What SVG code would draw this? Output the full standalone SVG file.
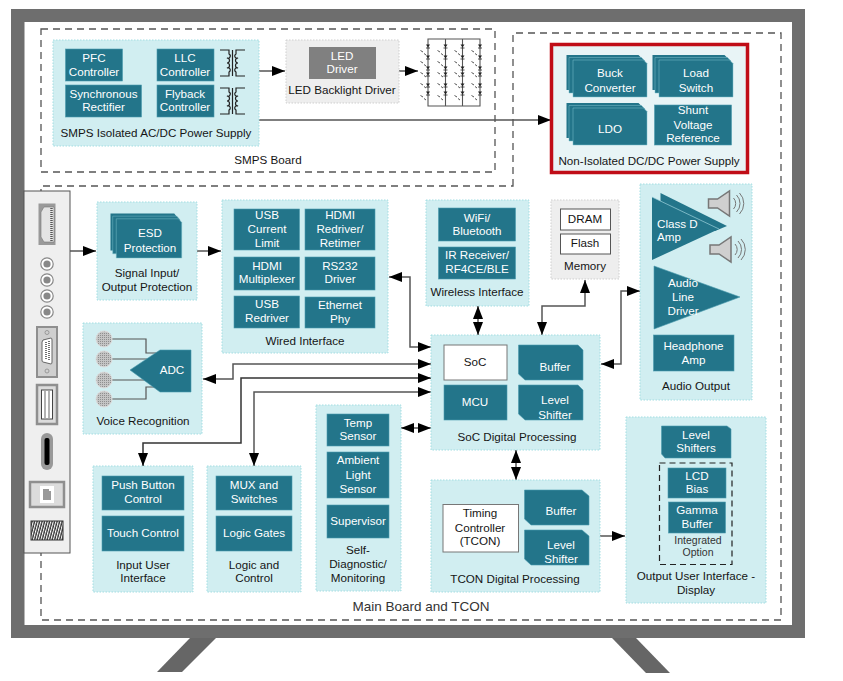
<svg xmlns="http://www.w3.org/2000/svg" width="843" height="681" viewBox="0 0 843 681">
<style>
text{font-family:"Liberation Sans",Arial,sans-serif;font-size:11.650px;text-anchor:middle;fill:#151515}
.w{fill:#fff}
.s{text-anchor:start}
.p{fill:#d1eef1;stroke:#a3dde2;stroke-width:1;stroke-dasharray:1.5 1.5}
.g{fill:#eeeeee;stroke:#cfcfcf;stroke-width:1;stroke-dasharray:1.5 1.5}
.t{fill:#23758a;stroke:#4c9cae;stroke-width:.6}
.n{fill:#fff;stroke:#777;stroke-width:1}
.d{fill:none;stroke:#555;stroke-width:1.3;stroke-dasharray:7 5}
.c{fill:none;stroke:#555;stroke-width:1.5}
.a{marker-end:url(#ah)}
.b{marker-start:url(#ah);marker-end:url(#ah)}
.m{fill:none;stroke:#555;stroke-width:1.2}
.pt{fill:#dcdcdc;stroke:#8f8f8f;stroke-width:2.5}
</style>
<defs>
<marker id="ah" viewBox="0 0 13 10" refX="13" refY="5" markerUnits="userSpaceOnUse" markerWidth="13" markerHeight="10" orient="auto-start-reverse"><path d="M0 0L13 5L0 10Z" fill="#000"/></marker>
<g id="stack">
<path d="M0 0H72L75 3V35H0Z" fill="#23758a"/>
<path d="M2.5 2.5H75L78 5.5V38H2.5Z" fill="#23758a" stroke="#7fc0cc" stroke-width=".5"/>
<path d="M6.5 5H77L80.500 8.500V42H6.500Z" fill="#23758a" stroke="#7fc0cc" stroke-width=".5"/>
</g>
<g id="xf" fill="none" stroke="#222" stroke-width="1.200">
<path d="M0 0H9V4a2 2 0 0 1-2 4a2 2 0 0 1 0 5a2 2 0 0 1 0 5a2 2 0 0 1 2 4V26H0"/>
<path d="M25 0H16V4a2 2 0 0 0 2 4a2 2 0 0 0 0 5a2 2 0 0 0 0 5a2 2 0 0 0-2 4V26H25"/>
<path d="M12.500 0V26"/>
</g>
<g id="dio"><path d="M-2 -1.500H2L0 1.500Z" fill="#222"/><path d="M-2 2H2" stroke="#222" stroke-width=".8"/></g>
<g id="ledm" stroke="#555" stroke-width="1" fill="none"><path d="M-2.500 -1.500L0 0M1 1.500L3 3"/></g>
<g id="spk"><path d="M0 8H9L21 0V25L9 17H0Z" fill="#cfcfcf" stroke="#777" stroke-width="1.500"/><path d="M25 7a8 8 0 0 1 0 11M28 4a12 12 0 0 1 0 17M31 2a15 15 0 0 1 0 21" fill="none" stroke="#777" stroke-width="1"/></g>
<g id="rca"><circle r="6.200" fill="#fff" stroke="#888" stroke-width="1.200"/><circle r="3.600" fill="#888"/></g>
<pattern id="spec" width="2" height="2" patternUnits="userSpaceOnUse"><rect width="2" height="2" fill="#c4c4c4"/><rect width="1" height="1" fill="#8f8f8f"/></pattern>
<pattern id="coil" width="2.500" height="19" patternUnits="userSpaceOnUse" patternTransform="skewX(-15)"><rect width="2.500" height="19" fill="#333"/><rect width="1.100" height="19" fill="#fff"/></pattern>
<circle id="mic" r="8" fill="url(#spec)" stroke="#dcdcdc" stroke-width="1"/>
</defs>

<g id="tv">
<path d="M190 638H216L182 672H157Z" fill="#666"/>
<path d="M612 638H636L670 673H646Z" fill="#666"/>
<path fill-rule="evenodd" d="M11 9H805V638H11ZM24.500 22V625H792V22Z" fill="#6e6e6e"/>
</g>

<g id="smps-board"><rect class="d" x="41" y="29" width="454" height="143"/><text x="268" y="164">SMPS Board</text></g>
<g id="main-board"><path class="d" d="M513 186V33H781V620H41V186Z"/><text x="421" y="611" style="font-size:13.500px;fill:#333">Main Board and TCON</text></g>

<g id="connectors">
<path class="c" d="M122 65H157M148 65V101H157"/>
<path class="c a" d="M259 71H285"/>
<path class="c a" d="M399 71H418"/>
<path class="c a" d="M259 120H551"/>
<path class="c a" d="M70 251H96"/>
<path class="c a" d="M197 251H221"/>
<path class="c b" d="M389 277H410V347H431"/>
<path class="c b" d="M203 379H233V364H431"/>
<path class="c b" style="stroke:#333" d="M143 466V443H241V378H431"/>
<path class="c b" d="M254 466V392H431"/>
<path class="c b" d="M478 306V335"/>
<path class="c b" d="M585 280V306H542V335"/>
<path class="c b" d="M401 428H431"/>
<path class="c b" d="M516 450V480"/>
<path class="c a" d="M600 536H625"/>
<path class="c b" d="M601 364H621V291H640"/>
</g>

<g id="smps-supply">
<rect class="p" x="53" y="40" width="206" height="106"/>
<rect class="t" x="65.500" y="49" width="57" height="32"/><text class="w" x="94" y="62">PFC</text><text class="w" x="94" y="75.500">Controller</text>
<rect class="t" x="157" y="49" width="57" height="32"/><text class="w" x="185" y="62">LLC</text><text class="w" x="185" y="75.500">Controller</text>
<rect class="t" x="65.500" y="85" width="76" height="32"/><text class="w" x="103.500" y="98">Synchronous</text><text class="w" x="103.500" y="111">Rectifier</text>
<rect class="t" x="157" y="85" width="57" height="32"/><text class="w" x="185" y="98">Flyback</text><text class="w" x="185" y="111">Controller</text>
<use href="#xf" x="220" y="50"/><use href="#xf" x="220" y="88"/>
<text x="156" y="137">SMPS Isolated AC/DC Power Supply</text>
</g>
<g id="led-driver">
<rect class="g" x="286" y="40" width="113" height="63"/>
<rect x="309" y="47" width="67" height="32" fill="#808080"/><text class="w" x="342" y="60">LED</text><text class="w" x="342" y="73">Driver</text>
<text x="342" y="94">LED Backlight Driver</text>
</g>
<g id="led-array">
<path d="M428 39H480V106H428ZM445.500 39V106M462.500 39V106" fill="none" stroke="#555" stroke-width="1.100"/>
<use href="#dio" x="428" y="46"/><use href="#dio" x="428" y="57"/><use href="#dio" x="428" y="68"/><use href="#dio" x="428" y="74"/><use href="#dio" x="428" y="85"/><use href="#dio" x="428" y="93"/>
<use href="#dio" x="445.500" y="46"/><use href="#dio" x="445.500" y="57"/><use href="#dio" x="445.500" y="68"/><use href="#dio" x="445.500" y="74"/><use href="#dio" x="445.500" y="85"/><use href="#dio" x="445.500" y="93"/>
<use href="#dio" x="462.500" y="46"/><use href="#dio" x="462.500" y="57"/><use href="#dio" x="462.500" y="68"/><use href="#dio" x="462.500" y="74"/><use href="#dio" x="462.500" y="85"/><use href="#dio" x="462.500" y="93"/>
<use href="#dio" x="480" y="46"/><use href="#dio" x="480" y="57"/><use href="#dio" x="480" y="68"/><use href="#dio" x="480" y="74"/><use href="#dio" x="480" y="85"/><use href="#dio" x="480" y="93"/>
<use href="#ledm" x="423" y="52"/><use href="#ledm" x="423" y="63"/><use href="#ledm" x="423" y="74"/><use href="#ledm" x="423" y="85"/><use href="#ledm" x="423" y="97"/>
<use href="#ledm" x="440" y="52"/><use href="#ledm" x="440" y="63"/><use href="#ledm" x="440" y="74"/><use href="#ledm" x="440" y="85"/><use href="#ledm" x="440" y="97"/>
<use href="#ledm" x="457" y="52"/><use href="#ledm" x="457" y="63"/><use href="#ledm" x="457" y="74"/><use href="#ledm" x="457" y="85"/><use href="#ledm" x="457" y="97"/>
<use href="#ledm" x="474" y="52"/><use href="#ledm" x="474" y="63"/><use href="#ledm" x="474" y="74"/><use href="#ledm" x="474" y="85"/><use href="#ledm" x="474" y="97"/>
</g>
<g id="dcdc">
<rect x="551.500" y="44.500" width="196" height="128" fill="#e8f4f6" stroke="#c00d17" stroke-width="3.500"/>
<use href="#stack" x="566.500" y="55"/><text class="w" x="610" y="77">Buck</text><text class="w" x="610" y="92">Converter</text>
<use href="#stack" x="652.500" y="55"/><text class="w" x="696" y="77">Load</text><text class="w" x="696" y="92">Switch</text>
<use href="#stack" x="566.500" y="103"/><text class="w" x="610" y="133">LDO</text>
<rect class="t" x="654.500" y="105" width="77" height="40"/><text class="w" x="693" y="114">Shunt</text><text class="w" x="693" y="129">Voltage</text><text class="w" x="693" y="142">Reference</text>
<text x="649" y="165">Non-Isolated DC/DC Power Supply</text>
</g>

<g id="ports">
<rect x="24" y="191" width="46" height="362" fill="#efefef" stroke="#555" stroke-width="1"/>
<rect x="38.500" y="203.500" width="17" height="41.500" fill="#9a9a9a"/>
<path d="M44 207H54V242H44L41 237V212Z" fill="#e4e4e4" stroke="#777" stroke-width=".6"/>
<path d="M51.500 208V241" stroke="#555" stroke-width="2.500" stroke-dasharray="1 1"/>
<use href="#rca" x="47" y="264"/><use href="#rca" x="47" y="280"/><use href="#rca" x="47" y="296"/><use href="#rca" x="47" y="312"/>
<rect x="37" y="327" width="20" height="50" fill="#cfcfcf" stroke="#8f8f8f" stroke-width="2"/>
<circle cx="47" cy="332.500" r="2" fill="none" stroke="#999"/><circle cx="47" cy="371" r="2" fill="none" stroke="#999"/>
<path d="M43 340L51 338Q52 338 52 340V362Q52 364 51 364L43 362Q42 362 42 360V342Z" fill="#fff" stroke="#666"/>
<path d="M46 342V360M49 341V361" stroke="#444" stroke-width="1.500" stroke-dasharray="1 1"/>
<rect x="37" y="385" width="20" height="39" class="pt"/>
<rect x="41.500" y="390" width="11" height="29" fill="#fff" stroke="#444"/>
<path d="M45 391V418M49 391V418" stroke="#999" stroke-width="1.500"/>
<rect x="41" y="433" width="12" height="37" rx="6" fill="#999"/>
<rect x="44.500" y="438" width="5" height="27" rx="2" fill="#000"/>
<rect x="30" y="482" width="34" height="25" class="pt"/>
<rect x="40" y="486" width="14" height="17" fill="#fff"/>
<path d="M43 489H49V491H51V500H43Z" fill="#999"/>
<rect x="31" y="521" width="32" height="19" fill="url(#coil)" stroke="#333" stroke-width="1"/>
</g>

<g id="signal-protection">
<rect class="p" x="97" y="202" width="100" height="98"/>
<use href="#stack" transform="translate(110.500 213.500) scale(.885 1.060)"/>
<text class="w" x="150" y="237">ESD</text><text class="w" x="150" y="252">Protection</text>
<text x="147" y="277">Signal Input/</text><text x="147" y="291">Output Protection</text>
</g>
<g id="voice">
<rect class="p" x="83" y="323" width="119" height="111"/>
<path class="m" d="M112 339H146V353H162M112 359H160M112 380H160M112 399H146V387H162"/>
<use href="#mic" x="104" y="339"/><use href="#mic" x="104" y="359"/><use href="#mic" x="104" y="380"/><use href="#mic" x="104" y="399"/>
<path class="t" d="M130 370L160 350H191V392H160Z"/><text class="w" x="172" y="374">ADC</text>
<text x="143" y="425">Voice Recognition</text>
</g>
<g id="wired">
<rect class="p" x="222" y="200" width="166" height="153"/>
<rect class="t" x="234" y="209" width="65.500" height="41"/><text class="w" x="267" y="219">USB</text><text class="w" x="267" y="233">Current</text><text class="w" x="267" y="247">Limit</text>
<rect class="t" x="305" y="209" width="70" height="41"/><text class="w" x="340" y="219">HDMI</text><text class="w" x="340" y="233">Redriver/</text><text class="w" x="340" y="247">Retimer</text>
<rect class="t" x="234" y="257" width="65.500" height="33"/><text class="w" x="267" y="270">HDMI</text><text class="w" x="267" y="283">Multiplexer</text>
<rect class="t" x="305" y="257" width="70" height="33"/><text class="w" x="340" y="270">RS232</text><text class="w" x="340" y="283">Driver</text>
<rect class="t" x="234" y="296" width="65.500" height="32"/><text class="w" x="267" y="308">USB</text><text class="w" x="267" y="322">Redriver</text>
<rect class="t" x="305" y="297" width="70" height="31"/><text class="w" x="340" y="309">Ethernet</text><text class="w" x="340" y="323">Phy</text>
<text x="305" y="345">Wired Interface</text>
</g>
<g id="wireless">
<rect class="p" x="426" y="200" width="103" height="106"/>
<rect class="t" x="438.500" y="208" width="77" height="33"/><text class="w" x="477" y="222">WiFi/</text><text class="w" x="477" y="235">Bluetooth</text>
<rect class="t" x="438.500" y="247" width="77" height="32"/><text class="w" x="477" y="259">IR Receiver/</text><text class="w" x="477" y="273">RF4CE/BLE</text>
<text x="477" y="296">Wireless Interface</text>
</g>
<g id="memory">
<rect class="g" x="551" y="200" width="68" height="79"/>
<rect class="n" x="560.500" y="209" width="50" height="21" style="stroke:#555"/><text x="585" y="223">DRAM</text>
<rect class="n" x="560.500" y="234" width="50" height="20" style="stroke:#555"/><text x="585" y="247">Flash</text>
<text x="585" y="270">Memory</text>
</g>
<g id="soc">
<rect class="p" x="431" y="335" width="169" height="115"/>
<rect class="n" x="444" y="345" width="63" height="35"/><text x="475" y="366">SoC</text>
<rect class="t" x="444" y="385" width="63" height="35"/><text class="w" x="475" y="406">MCU</text>
<path class="t" d="M518.500 345H578L583 350V380H525L518.500 374Z"/><text class="w" x="555" y="371">Buffer</text>
<path class="t" d="M518.500 385H578L583 390V420H525L518.500 414Z"/><text class="w" x="555" y="404">Level</text><text class="w" x="555" y="419">Shifter</text>
<text x="517" y="441">SoC Digital Processing</text>
</g>
<g id="input-ui">
<rect class="p" x="93" y="466" width="100" height="126"/>
<rect class="t" x="102" y="476" width="82" height="34"/><text class="w" x="143" y="489">Push Button</text><text class="w" x="143" y="503">Control</text>
<rect class="t" x="102" y="516" width="82" height="35"/><text class="w" x="143" y="537">Touch Control</text>
<text x="143" y="569">Input User</text><text x="143" y="582">Interface</text>
</g>
<g id="logic">
<rect class="p" x="207" y="466" width="94" height="126"/>
<rect class="t" x="216" y="476" width="76" height="34"/><text class="w" x="254" y="489">MUX and</text><text class="w" x="254" y="503">Switches</text>
<rect class="t" x="216" y="516" width="76" height="35"/><text class="w" x="254" y="537">Logic Gates</text>
<text x="254" y="569">Logic and</text><text x="254" y="582">Control</text>
</g>
<g id="self-diag">
<rect class="p" x="316" y="405" width="85" height="186"/>
<rect class="t" x="327" y="414" width="62" height="32"/><text class="w" x="358" y="427">Temp</text><text class="w" x="358" y="440">Sensor</text>
<rect class="t" x="327" y="452" width="62" height="46"/><text class="w" x="358" y="464">Ambient</text><text class="w" x="358" y="479">Light</text><text class="w" x="358" y="493">Sensor</text>
<rect class="t" x="327" y="505" width="62" height="33"/><text class="w" x="358" y="525">Supervisor</text>
<text x="358" y="554">Self-</text><text x="358" y="568">Diagnostic/</text><text x="358" y="582">Monitoring</text>
</g>
<g id="tcon">
<rect class="p" x="431" y="480" width="169" height="112"/>
<rect class="n" x="443" y="504.500" width="75.500" height="47.500"/><text x="480" y="517">Timing</text><text x="480" y="532">Controller</text><text x="480" y="545">(TCON)</text>
<path class="t" d="M524.500 490H582L589 496V525H531L524.500 519Z"/><text class="w" x="561" y="515">Buffer</text>
<path class="t" d="M524.500 530H582L589 536V565H531L524.500 559Z"/><text class="w" x="561" y="549">Level</text><text class="w" x="561" y="563">Shifter</text>
<text x="515" y="583">TCON Digital Processing</text>
</g>
<g id="audio">
<rect class="p" x="640" y="184" width="112" height="216"/>
<path d="M660.500 193L727 226L715 231L660.500 225Z" fill="#23758a"/>
<path d="M652 197L719 229L652 260Z" fill="#23758a"/>
<path d="M652 197L719 229" stroke="#9fd3dc" stroke-width=".7" fill="none"/>
<text class="w s" x="657" y="228">Class D</text><text class="w s" x="657" y="241">Amp</text>
<use href="#spk" x="708.500" y="191"/><use href="#spk" x="710" y="237"/>
<path class="t" d="M654 266L740 297L654 329Z"/>
<text class="w" x="683" y="287">Audio</text><text class="w" x="683" y="301">Line</text><text class="w" x="683" y="315">Driver</text>
<rect class="t" x="653.500" y="335" width="80.500" height="36"/><text class="w" x="693.500" y="350">Headphone</text><text class="w" x="693.500" y="364">Amp</text>
<text x="696" y="390">Audio Output</text>
</g>
<g id="output-ui">
<rect class="p" x="626" y="417" width="140" height="186"/>
<path class="t" d="M661.500 426H727L731 429V458H665L661.500 454Z"/><text class="w" x="696" y="439">Level</text><text class="w" x="696" y="452">Shifters</text>
<rect x="659.500" y="463" width="72.500" height="101.500" fill="none" stroke="#222" stroke-width="1.200" stroke-dasharray="6 4"/>
<rect class="t" x="668" y="468" width="58" height="30"/><text class="w" x="697" y="480">LCD</text><text class="w" x="697" y="493">Bias</text>
<rect class="t" x="668.500" y="502" width="57" height="31"/><text class="w" x="697" y="514">Gamma</text><text class="w" x="697" y="528">Buffer</text>
<text x="698" y="544" style="font-size:10.500px;fill:#333">Integrated</text><text x="698" y="556" style="font-size:10.500px;fill:#333">Option</text>
<text x="696" y="580">Output User Interface -</text><text x="696" y="594">Display</text>
</g>
</svg>
